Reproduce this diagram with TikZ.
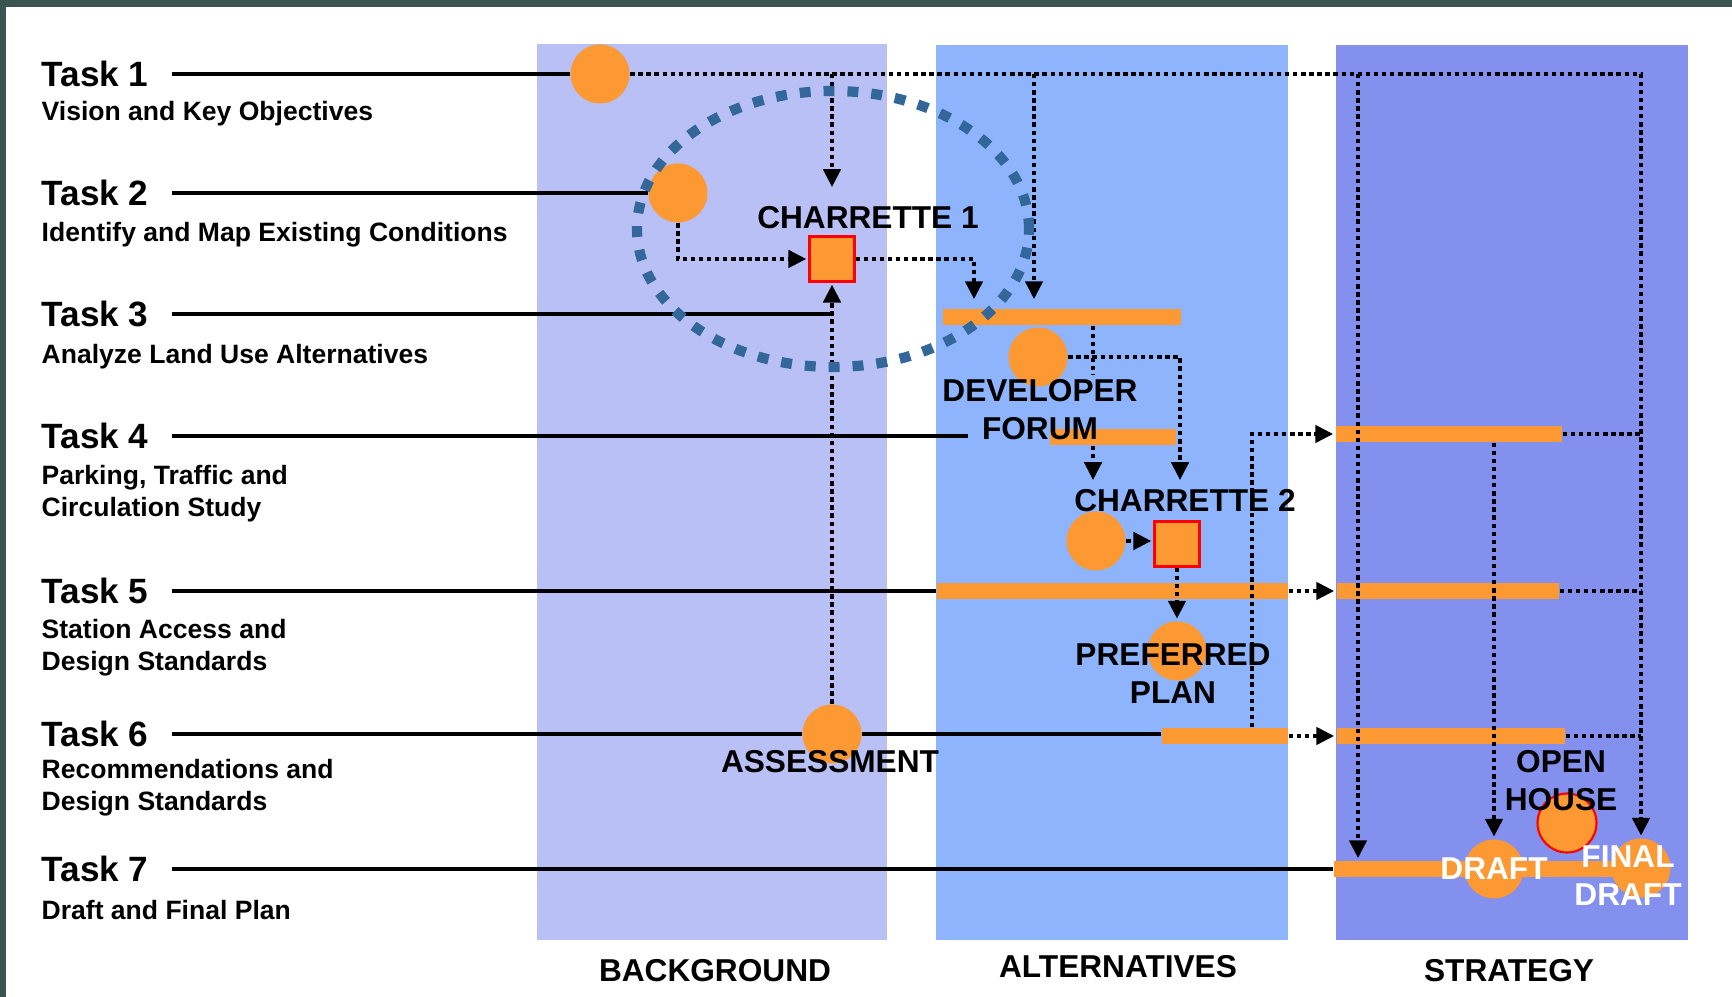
\documentclass[tikz,border=0pt]{standalone}
\usepackage{fontspec}
\setmainfont{Liberation Sans}
\usepackage{tikz}
\usetikzlibrary{arrows.meta}

\definecolor{slate}{RGB}{60,84,80}
\definecolor{bgcol}{RGB}{185,192,246}
\definecolor{altcol}{RGB}{141,180,253}
\definecolor{strcol}{RGB}{132,144,237}
\definecolor{orng}{RGB}{253,153,51}
\definecolor{ellcol}{RGB}{51,102,153}

\begin{document}
\begin{tikzpicture}[
  tasktitle/.style={anchor=west, inner sep=0, font=\fontsize{10}{12}\selectfont\bfseries},
  tasksub/.style={anchor=base west, inner sep=0, font=\fontsize{7.55}{9.1}\selectfont\bfseries},
  lbl/.style={anchor=base, inner sep=0, font=\fontsize{9}{10.8}\selectfont\bfseries},
  taskline/.style={line width=1pt, shorten <=2.3mm},
  dotline/.style={line width=1.25pt, dash pattern=on 1.25pt off 1.05pt},
  flow/.style={dotline, -{Triangle[length=1.8mm,width=1.7mm]}, shorten >=0.2mm},
  event/.style={circle, fill=orng, minimum size=5.9mm, inner sep=0},
  meeting/.style={rectangle, fill=orng, draw=red, line width=0.6pt, minimum size=4.5mm, inner sep=0},
  phase/.style={rectangle, fill=orng, minimum height=1.6mm, inner sep=0}]
  %\draw[step=1cm] (0,0) grid (17,9);
  \useasboundingbox (0,0) rectangle (17.32,9.97);
  \fill[slate] (0,0) rectangle (17.32,9.97);
  \fill[white] (0.06,0) rectangle (17.32,9.90);

  \fill[bgcol]  ( 5.37,0.57) rectangle ( 8.87,9.53);
  \fill[altcol] ( 9.36,0.57) rectangle (12.88,9.52);
  \fill[strcol] (13.36,0.57) rectangle (16.88,9.52);

  \draw (0.41,9.23) node[tasktitle] (t1) {Task 1};
  \draw (0.41,8.76) node[tasksub] (s1) {Vision and Key Objectives};
  \draw (0.41,8.04) node[tasktitle] (t2) {Task 2};
  \draw (0.41,7.55) node[tasksub] (s2) {Identify and Map Existing Conditions};
  \draw (0.41,6.83) node[tasktitle] (t3) {Task 3};
  \draw (0.41,6.33) node[tasksub] (s3) {Analyze Land Use Alternatives};
  \draw (0.41,5.61) node[tasktitle] (t4) {Task 4};
  \draw (0.41,5.12) node[tasksub] (s4)
  {\begin{tabular}[t]{@{}l@{}}Parking, Traffic and\\Circulation Study\end{tabular}};
  \draw (0.41,4.06) node[tasktitle] (t5) {Task 5};
  \draw (0.41,3.58) node[tasksub] (s5)
  {\begin{tabular}[t]{@{}l@{}}Station Access and\\Design Standards\end{tabular}};
  \draw (0.41,2.63) node[tasktitle] (t6) {Task 6};
  \draw (0.41,2.18) node[tasksub] (s6)
  {\begin{tabular}[t]{@{}l@{}}Recommendations and\\Design Standards\end{tabular}};
  \draw (0.41,1.28) node[tasktitle] (t7) {Task 7};
  \draw (0.41,0.77) node[tasksub] (s7) {Draft and Final Plan};

  % phase bars
  \draw (10.62,6.80) node[phase, minimum width=2.38cm] (barA) {};
  \draw (11.13,5.60) node[phase, minimum width=1.26cm] (barB) {};
  \draw (11.125,4.06) node[phase, minimum width=3.51cm] (barC) {};
  \draw (12.25,2.61) node[phase, minimum width=1.26cm] (barD) {};
  \draw (14.49,5.63) node[phase, minimum width=2.26cm] (barE) {};
  \draw (14.48,4.06) node[phase, minimum width=2.22cm] (barF) {};
  \draw (14.51,2.61) node[phase, minimum width=2.28cm] (barG) {};
  \draw (14.87,1.28) node[phase, minimum width=3.06cm] (barH) {};

  % events
  \draw ( 6.00,9.23) node[event] (c1) {};
  \draw ( 6.78,8.04) node[event] (c2) {};
  \draw ( 8.32,2.63) node[event] (asm) {};
  \draw (10.38,6.40) node[event] (dev) {};
  \draw (10.96,4.56) node[event] (ch2c) {};
  \draw (11.77,3.46) node[event] (pref) {};
  \draw (14.94,1.28) node[event] (draft) {};
  \draw (15.67,1.74) node[event, draw=red, line width=0.6pt] (openh) {};
  \draw (16.41,1.29) node[event] (final) {};
  \draw ( 8.32,7.38) node[meeting] (sq1) {};
  \draw (11.77,4.53) node[meeting] (sq2) {};

  \draw ( 8.68,7.68) node[lbl] (ch1l) {CHARRETTE 1};
  \draw (10.40,5.95) node[lbl] (devl)
  {\begin{tabular}[t]{@{}c@{}}DEVELOPER\\FORUM\end{tabular}};
  \draw (11.85,4.85) node[lbl] (ch2l) {CHARRETTE 2};
  \draw (11.73,3.31) node[lbl] (prefl)
  {\begin{tabular}[t]{@{}c@{}}PREFERRED\\PLAN\end{tabular}};
  \draw ( 8.30,2.24) node[lbl] (asml) {ASSESSMENT};
  \draw (15.61,2.24) node[lbl] (openl)
  {\begin{tabular}[t]{@{}c@{}}OPEN\\HOUSE\end{tabular}};
  \draw (14.94,1.17) node[lbl, text=white] (draftl) {DRAFT};
  \draw (16.28,1.29) node[lbl, text=white] (finall)
  {\begin{tabular}[t]{@{}c@{}}FINAL\\DRAFT\end{tabular}};

  \draw ( 7.15,0.15) node[lbl] (bgl) {BACKGROUND};
  \draw (11.18,0.19) node[lbl] (altl) {ALTERNATIVES};
  \draw (15.09,0.15) node[lbl] (strl) {STRATEGY};

  % task lines
  \coordinate (t4end) at (9.68,5.61);
  \draw[taskline] (t1) -- (c1);
  \draw[taskline] (t2) -- (c2);
  \draw[taskline] (t3) -- (t3 -| asm);
  \draw[taskline] (t4) -- (t4end);
  \draw[taskline] (t5) -- (barC);
  \draw[taskline] (t6) -- (asm);
  \draw[taskline, shorten <=0pt] (asm) -- (asm -| barD.west);
  \draw[taskline] (t7) -- (barH);

  % dotted flows
  \coordinate (dropA) at (10.34,9.23);
  \coordinate (dropH) at (13.58,9.23);
  \coordinate (xA) at ( 9.74,0);
  \coordinate (xC) at (10.93,0);
  \coordinate (xD) at (11.80,0);
  \coordinate (xE) at (12.52,0);

  \draw[flow] (c1) -| (final);
  \draw[flow, shorten >=1.9mm] (sq1 |- c1) -- (sq1 |- ch1l.north);
  \draw[flow, shorten >=0.9mm] (dropA) -- (dropA |- barA.north);
  \draw[flow] (dropH) -- (dropH |- barH.north);

  \draw[flow] (c2) |- (sq1);
  \draw[flow, shorten >=0.9mm] (sq1) -| (xA |- barA.north);
  \draw[flow] (asm) -- (sq1);

  \draw[dotline] (xC |- barA.south) -- (xC |- devl.north);
  \draw[flow, shorten >=0.9mm] (xC |- barB.south) -- (xC |- ch2l.north);
  \draw[flow, shorten >=0.9mm] (dev) -| (xD |- ch2l.north);
  \draw[flow] (ch2c) -- (ch2c -| sq2.west);
  \draw[flow] (sq2) -- (pref);
  \draw[flow] (xE |- barD.north) |- (barE);
  \draw[flow] (barC) -- (barF);
  \draw[flow] (barD) -- (barG);

  \draw[dotline] (barE) -- (barE -| final);
  \draw[dotline] (barF) -- (barF -| final);
  \draw[dotline] (barG) -- (barG -| final);
  \draw[flow] (draft |- barE.south) -- (draft);

  % charrette 1 workshop ring
  \draw[ellcol, line width=2.9pt, dash pattern=on 3.1pt off 3.7pt]
    (8.33,7.68) ellipse (1.96 and 1.38);
\end{tikzpicture}
\end{document}
